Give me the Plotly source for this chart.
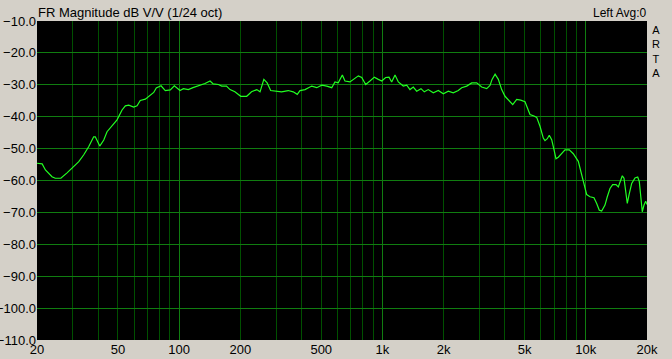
import plotly.graph_objects as go

freq_hz = [
    20, 21.2, 22.0, 23.7, 24.6, 26.2, 28.1, 30.3, 32.1, 33.9, 35.9, 38.0, 38.7, 40.7, 42.6, 44.2,
    49.5, 52.4, 54.4, 56.5, 59.8, 62.1, 64.4, 68.2, 72.1, 75.0, 77.2, 81.5, 85.5, 90.5, 94.7,
    101, 105, 111, 117, 124, 134, 142, 147, 156, 162, 171, 178, 188, 201, 215, 227, 241, 250,
    261, 271, 282, 302, 319, 344, 364, 381, 393, 416, 432, 449, 475, 503, 532, 563, 584, 606,
    635, 654, 692, 719, 761, 791, 827, 868, 912, 954, 992, 1037, 1077, 1110, 1153, 1197, 1266,
    1316, 1366, 1418, 1474, 1547, 1606, 1680, 1778, 1882, 1992, 2108, 2230, 2360, 2452, 2596,
    2747, 2907, 3076, 3256, 3380, 3460, 3580, 3714, 3858, 4006, 4206, 4372, 4574, 4786, 5024,
    5156, 5316, 5562, 5736, 5954, 6180, 6300, 6466, 6614, 6796, 6976, 7136, 7324, 7612, 7902,
    8296, 8680, 9186, 9546, 9798, 10102, 10488, 10972, 11314, 11652, 11972, 12428, 12756, 13152,
    13562, 14078, 14450, 14732, 15120, 15412, 15712, 16000, 16366, 16816, 17456, 18000, 18326,
    18620, 18962, 19332, 19702, 20000,
]

magnitude_db = [
    -54.6, -54.8, -56.7, -58.8, -59.3, -59.3, -57.6, -55.5, -54.1, -52.0, -49.4, -46.3, -46.3, -49.2, -47.3, -44.7,
    -41.0, -37.9, -36.6, -36.4, -37.0, -36.6, -34.9, -34.5, -33.1, -32.4, -31.0, -30.3, -31.8, -31.6, -30.3,
    -31.8, -31.2, -31.5, -30.9, -30.4, -29.6, -28.8, -29.7, -29.9, -30.4, -30.4, -31.5, -32.2, -33.6, -33.6, -32.2, -31.5, -32.2,
    -28.3, -29.4, -31.8, -32.0, -32.2, -31.8, -32.2, -33.0, -31.8, -31.5, -30.9, -30.4, -30.9, -30.1, -30.4, -30.9, -29.1, -29.4,
    -26.9, -28.8, -29.1, -28.3, -27.2, -27.7, -29.9, -28.8, -27.6, -28.3, -28.8, -27.7, -27.6, -29.1, -26.9, -29.1, -30.4,
    -30.1, -31.5, -30.7, -32.0, -31.2, -32.2, -31.5, -32.5, -31.8, -32.8, -32.0, -32.5, -31.8, -30.9, -30.4,
    -29.4, -29.4, -30.7, -31.2, -30.2, -28.3, -26.7, -28.3, -31.5, -33.6, -34.9, -36.2, -34.6, -34.8, -35.3,
    -37.0, -39.3, -39.8, -40.2, -43.0, -46.7, -47.5, -46.9, -45.8, -47.2, -50.3, -53.2, -52.7, -51.4, -50.4,
    -50.4, -51.6, -54.0, -58.2, -61.4, -64.4, -65.1, -65.4, -67.2, -69.3, -69.6, -67.7, -65.1, -62.5,
    -61.3, -61.3, -62.0, -60.4, -58.5, -59.3, -63.5, -67.2, -64.1, -60.9, -59.2, -58.9, -60.3,
    -64.1, -69.8, -67.7, -66.5, -67.5,
]

x_tick_vals = [20, 50, 100, 200, 500, 1000, 2000, 5000, 10000, 20000]
x_tick_text = ["20", "50", "100", "200", "500", "1k", "2k", "5k", "10k", "20k"]
x_minor_grid = [30, 40, 50, 60, 70, 80, 90,
                200, 300, 400, 500, 600, 700, 800, 900,
                2000, 3000, 4000, 5000, 6000, 7000, 8000, 9000]
x_decade_grid = [100, 1000, 10000]
y_tick_vals = [-10, -20, -30, -40, -50, -60, -70, -80, -90, -100, -110]

FONT = "Liberation Sans, Arial, sans-serif"
BG = "#d4d0c8"
DARK_GRID = "rgb(0,80,0)"
BRIGHT_GRID = "rgb(16,125,16)"

fig = go.Figure()
fig.add_trace(go.Scatter(
    x=freq_hz, y=magnitude_db, mode="lines",
    line=dict(color="#22ff22", width=1.2),
    hoverinfo="skip", showlegend=False,
))
fig.add_trace(go.Scatter(
    x=[20, 20000], y=[-200, -200], xaxis="x2", mode="lines",
    line=dict(width=0), hoverinfo="skip", showlegend=False,
))

fig.update_layout(
    width=672, height=359,
    margin=dict(l=37, r=25, t=21, b=19, autoexpand=False),
    paper_bgcolor=BG, plot_bgcolor="black",
    font=dict(family=FONT, size=13, color="black"),
    xaxis=dict(
        type="log", range=[1.30103, 4.30103], automargin=False,
        tickvals=x_tick_vals, ticktext=x_tick_text,
        showgrid=False, zeroline=False, showline=False, ticks="",
        tickfont=dict(size=13, color="black"),
        minor=dict(tickvals=x_minor_grid, showgrid=True, gridcolor=DARK_GRID, gridwidth=1, ticks=""),
    ),
    xaxis2=dict(
        type="log", range=[1.30103, 4.30103], overlaying="x", matches="x", automargin=False,
        tickvals=x_decade_grid, showticklabels=False,
        showgrid=True, gridcolor=BRIGHT_GRID, gridwidth=1, zeroline=False, ticks="",
    ),
    yaxis=dict(
        range=[-110, -10], tickvals=y_tick_vals, tickformat=".1f", automargin=False,
        showgrid=True, gridcolor=BRIGHT_GRID, gridwidth=1,
        zeroline=False, showline=False, ticks="",
        tickfont=dict(size=13, color="black"),
    ),
    annotations=[
        dict(text="FR Magnitude dB V/V (1/24 oct)", xref="paper", yref="paper",
             x=0.0, y=1.0, xanchor="left", yanchor="bottom", xshift=-1, yshift=-1,
             showarrow=False, font=dict(size=13, color="black")),
        dict(text="Left Avg:0", xref="paper", yref="paper",
             x=1.0, y=1.0, xanchor="right", yanchor="bottom", xshift=1, yshift=-1,
             showarrow=False, font=dict(size=12, color="black")),
        dict(text="A<br>R<br>T<br>A", xref="paper", yref="paper",
             x=1.0, y=1.0, xanchor="center", yanchor="top", xshift=9, yshift=-1,
             showarrow=False, font=dict(size=11, color="black")),
    ],
)

fig.write_html("out.html")
